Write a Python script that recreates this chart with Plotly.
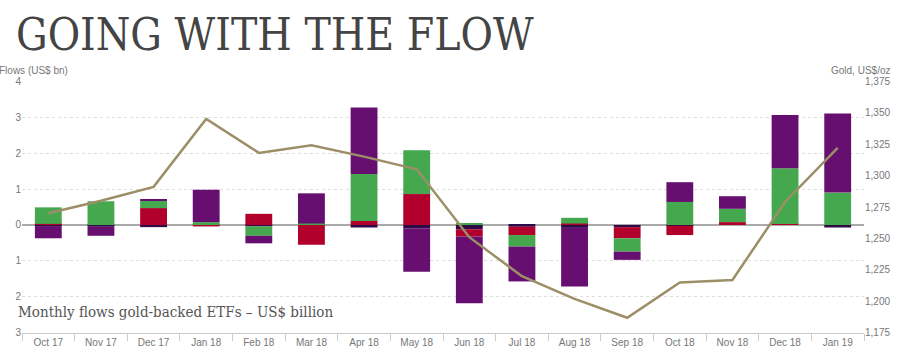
import plotly.graph_objects as go

months = ["Oct 17", "Nov 17", "Dec 17", "Jan 18", "Feb 18", "Mar 18", "Apr 18", "May 18",
          "Jun 18", "Jul 18", "Aug 18", "Sep 18", "Oct 18", "Nov 18", "Dec 18", "Jan 19"]

# Monthly ETF flows, US$ bn (stacking order: other, asia, north america, europe)
flows_other = [-0.03, -0.05, -0.06, 0.0, -0.04, 0.0, -0.07, -0.09,
               -0.12, -0.05, -0.08, -0.06, -0.02, 0.0, 0.0, -0.07]
flows_asia = [0.03, 0.0, 0.47, -0.04, 0.31, -0.55, 0.11, 0.86,
              -0.20, -0.23, 0.04, -0.31, -0.26, 0.08, 0.03, 0.0]
flows_north_america = [0.46, 0.66, 0.20, 0.08, -0.26, 0.04, 1.31, 1.22,
                       0.04, -0.32, 0.16, -0.37, 0.64, 0.37, 1.55, 0.90]
flows_europe = [-0.34, -0.25, 0.04, 0.90, -0.21, 0.84, 1.85, -1.21,
                -1.86, -0.97, -1.63, -0.23, 0.55, 0.35, 1.48, 2.20]

# Gold price, US$/oz
gold_price = [1270, 1280, 1291, 1345, 1318, 1324, 1315, 1305,
              1251, 1220, 1202, 1187, 1215, 1217, 1279, 1322]

left_tickvals = [-3, -2, -1, 0, 1, 2, 3, 4]
left_ticktext = ["3", "2", "1", "0", "1", "2", "3", "4"]
right_tickvals = [1175, 1200, 1225, 1250, 1275, 1300, 1325, 1350, 1375]
right_ticktext = ["1,175", "1,200", "1,225", "1,250", "1,275", "1,300", "1,325", "1,350", "1,375"]

series = [
    ("Other", flows_other, "#2e0b47"),
    ("Asia", flows_asia, "#b0002b"),
    ("North America", flows_north_america, "#45a84f"),
    ("Europe", flows_europe, "#670f70"),
]

fig = go.Figure()
for name, vals, col in series:
    fig.add_trace(go.Bar(x=months, y=vals, name=name, marker_color=col,
                         marker_line_width=0, width=0.51, yaxis="y"))

fig.add_trace(go.Scatter(x=months, y=gold_price, name="Gold", mode="lines",
                         line=dict(color="#9c8f68", width=2.5), yaxis="y2"))

tick_font = dict(family="Liberation Sans, Arial, sans-serif", size=10, color="#777777")
slab = "DejaVu Serif Condensed, DejaVu Serif, serif"

fig.update_layout(
    width=900, height=358,
    margin=dict(l=22, r=36, t=81, b=25, autoexpand=False),
    paper_bgcolor="white", plot_bgcolor="white",
    barmode="relative", bargap=0.49,
    showlegend=False,
    xaxis=dict(type="category", categoryorder="array", categoryarray=months,
               showline=True, linecolor="#cccccc", linewidth=1,
               ticks="outside", tickson="boundaries", ticklen=7, tickcolor="#cccccc",
               tickfont=tick_font, showgrid=False),
    yaxis=dict(range=[-3.004, 4.004], tickvals=left_tickvals, ticktext=left_ticktext,
               tickfont=tick_font, showgrid=True, gridcolor="#dddddd", griddash="dot",
               zeroline=True, zerolinecolor="#aaaaaa", zerolinewidth=1.5,
               ticks="", showline=False),
    yaxis2=dict(range=[1174.9, 1375.1], tickvals=right_tickvals, ticktext=right_ticktext,
                overlaying="y", side="right", tickfont=tick_font, showgrid=False,
                zeroline=False, showline=False, ticks=""),
    annotations=[
        dict(text="GOING WITH THE FLOW", xref="paper", yref="paper",
             x=(14 - 22) / 842, y=1 + (81 - 35) / 252, xanchor="left", yanchor="middle",
             showarrow=False,
             font=dict(family=slab, size=44, color="#444444")),
        dict(text="Flows (US$ bn)", xref="paper", yref="paper",
             x=(-3 - 22) / 842, y=1 + (81 - 71) / 252, xanchor="left", yanchor="middle",
             showarrow=False, font=tick_font),
        dict(text="Gold, US$/oz", xref="paper", yref="paper",
             x=(892 - 22) / 842, y=1 + (81 - 71) / 252, xanchor="right", yanchor="middle",
             showarrow=False, font=tick_font),
        dict(text="Monthly flows gold-backed ETFs \u2013 US$ billion", xref="paper", yref="paper",
             x=(16 - 22) / 842, y=1 - (312 - 81) / 252, xanchor="left", yanchor="middle",
             showarrow=False,
             font=dict(family=slab, size=15, color="#555555")),
    ],
)

fig.write_html("out.html", config={"displayModeBar": False},
               post_script="document.body.style.margin='0';document.body.style.overflow='hidden';")
